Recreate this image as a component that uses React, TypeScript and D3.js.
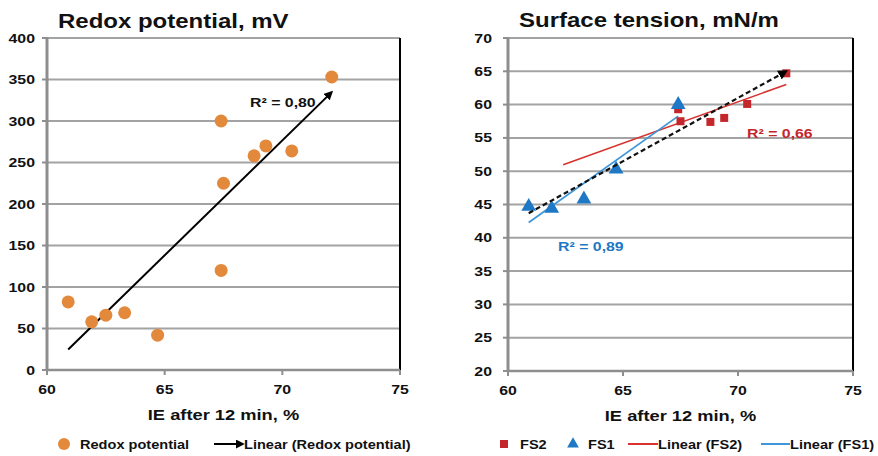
import React from "react";
import * as d3 from "d3";

const W = 878;
const H = 456;

// Redox potential (mV) against IE after 12 min (%)
const redoxIE = [60.9, 61.9, 62.5, 63.3, 64.7, 67.4, 67.4, 67.5, 68.8, 69.3, 70.4, 72.1];
const redoxMV = [82, 58, 66, 69, 42, 120, 300, 225, 258, 270, 264, 353];

// Surface tension (mN/m) against IE after 12 min (%)
const fs2IE = [67.4, 67.5, 68.8, 69.4, 70.4, 72.1];
const fs2ST = [59.3, 57.5, 57.4, 58.0, 60.1, 64.7];
const fs1IE = [60.9, 61.9, 63.3, 64.7, 67.4];
const fs1ST = [44.7, 44.4, 45.8, 50.3, 60.0];
const fs2TrendStart = 62.4; // the FS2 trendline starts before its first point

const xTicks = [60, 65, 70, 75];
const redoxTicks = [0, 50, 100, 150, 200, 250, 300, 350, 400];
const stTicks = [20, 25, 30, 35, 40, 45, 50, 55, 60, 65, 70];
const r2Labels = ["R² = 0,80", "R² = 0,66", "R² = 0,89"];

const FONT = "'Liberation Sans', Arial, sans-serif";
const ORANGE = "#E3893C";
const RED = "#C3262B";
const REDLINE = "#D8312E";
const BLUE = "#1F78C6";
const BLUELINE = "#3F97DA";
const GRID = "#A3A3A3";
const AXIS = "#8E8E8E";

// least squares line
function fit(xs: number[], ys: number[]) {
  const mx = d3.mean(xs) as number;
  const my = d3.mean(ys) as number;
  let sxy = 0;
  let sxx = 0;
  xs.forEach((x, i) => {
    sxy += (x - mx) * (ys[i] - my);
    sxx += (x - mx) * (x - mx);
  });
  const b = sxy / sxx;
  return (x: number) => my + b * (x - mx);
}

// text in the picture is stretched sideways, sx says how much
function T({ x, y, size = 13, sx = 1.22, anchor = "start", fill = "#111", dy = "0", children }: any) {
  return (
    <text
      transform={`translate(${x},${y}) scale(${sx},1)`}
      dy={dy}
      textAnchor={anchor}
      fontSize={size}
      fontFamily={FONT}
      fontWeight="bold"
      fill={fill}
    >
      {children}
    </text>
  );
}

function Frame({ x, y, ticks, title, labelGap }: any) {
  const [x0, x1] = x.range();
  const [y0, y1] = y.range();
  return (
    <g>
      {ticks.map((t: number) => (
        <line key={"g" + t} x1={x0} x2={x1} y1={y(t)} y2={y(t)} stroke={GRID} strokeWidth={2} />
      ))}
      {ticks.map((t: number) => (
        <g key={"t" + t}>
          <line x1={x0 - 5} x2={x0} y1={y(t)} y2={y(t)} stroke={AXIS} strokeWidth={2} />
          <T x={x0 - labelGap} y={y(t)} dy="0.35em" anchor="end">
            {t}
          </T>
        </g>
      ))}
      {xTicks.map((t) => (
        <g key={"x" + t}>
          <line x1={x(t)} x2={x(t)} y1={y0} y2={y0 + 5} stroke={AXIS} strokeWidth={2} />
          <T x={x(t)} y={y0 + 24} anchor="middle">
            {t}
          </T>
        </g>
      ))}
      <line x1={x1} x2={x1} y1={y1} y2={y0} stroke="#000" strokeWidth={2} />
      <line x1={x0} x2={x1} y1={y0} y2={y0} stroke={AXIS} strokeWidth={2.5} />
      <line x1={x0} x2={x0} y1={y1 - 1} y2={y0 + 1} stroke={AXIS} strokeWidth={3} />
      <T x={(x0 + x1) / 2} y={y0 + 50} size={15} anchor="middle">
        IE after 12 min, %
      </T>
      <T x={title.x} y={title.y} size={20} sx={1.2}>
        {title.text}
      </T>
    </g>
  );
}

export default function App() {
  const xL = d3.scaleLinear().domain([60, 75]).range([47, 400]);
  const yL = d3.scaleLinear().domain([0, 400]).range([370, 38]);
  const xR = d3.scaleLinear().domain([60, 75]).range([508, 853]);
  const yR = d3.scaleLinear().domain([20, 70]).range([371, 38]);

  const redoxFit = fit(redoxIE, redoxMV);
  const fs2Fit = fit(fs2IE, fs2ST);
  const fs1Fit = fit(fs1IE, fs1ST);
  const allFit = fit([...fs1IE, ...fs2IE], [...fs1ST, ...fs2ST]);

  const rx0 = d3.min(redoxIE) as number;
  const rx1 = d3.max(redoxIE) as number;
  const ax0 = d3.min([...fs1IE, ...fs2IE]) as number;
  const ax1 = d3.max([...fs1IE, ...fs2IE]) as number;
  const tri = d3.symbol(d3.symbolTriangle, 95)() as string;
  const legY = 444;
  const LSX = 1.12;

  return (
    <div style={{ position: "absolute", left: 0, top: 0 }}>
      <svg width={W} height={H} style={{ display: "block", background: "#fff" }}>
        <defs>
          <marker id="arr" viewBox="0 0 10 10" refX="8" refY="5" markerWidth="4.5" markerHeight="4.5" orient="auto">
            <path d="M0,0 L10,5 L0,10 Z" fill="#000" />
          </marker>
        </defs>

        {/* left panel */}
        <Frame x={xL} y={yL} ticks={redoxTicks} labelGap={12} title={{ text: "Redox potential, mV", x: 58, y: 28 }} />
        <line
          x1={xL(rx0)}
          y1={yL(redoxFit(rx0))}
          x2={xL(rx1)}
          y2={yL(redoxFit(rx1))}
          stroke="#000"
          strokeWidth={2}
          markerEnd="url(#arr)"
        />
        {redoxIE.map((v, i) => (
          <circle key={i} cx={xL(v)} cy={yL(redoxMV[i])} r={6.5} fill={ORANGE} />
        ))}
        <T x={250} y={107}>{r2Labels[0]}</T>

        {/* right panel */}
        <Frame x={xR} y={yR} ticks={stTicks} labelGap={16} title={{ text: "Surface tension, mN/m", x: 519, y: 27 }} />
        <line
          x1={xR(fs2TrendStart)}
          y1={yR(fs2Fit(fs2TrendStart))}
          x2={xR(d3.max(fs2IE) as number)}
          y2={yR(fs2Fit(d3.max(fs2IE) as number))}
          stroke={REDLINE}
          strokeWidth={1.6}
        />
        <line
          x1={xR(d3.min(fs1IE) as number)}
          y1={yR(fs1Fit(d3.min(fs1IE) as number))}
          x2={xR(d3.max(fs1IE) as number)}
          y2={yR(fs1Fit(d3.max(fs1IE) as number))}
          stroke={BLUELINE}
          strokeWidth={1.8}
        />
        {fs2IE.map((v, i) => (
          <rect key={"s" + i} x={xR(v) - 4} y={yR(fs2ST[i]) - 4} width={8} height={8} fill={RED} />
        ))}
        {fs1IE.map((v, i) => (
          <path key={"t" + i} d={tri} transform={`translate(${xR(v)},${yR(fs1ST[i])})`} fill={BLUE} />
        ))}
        <line
          x1={xR(ax0)}
          y1={yR(allFit(ax0))}
          x2={xR(ax1)}
          y2={yR(allFit(ax1))}
          stroke="#111"
          strokeWidth={2.2}
          strokeDasharray="5,3"
          markerEnd="url(#arr)"
        />
        <T x={747} y={138} fill={RED}>{r2Labels[1]}</T>
        <T x={558} y={251} fill={BLUE}>{r2Labels[2]}</T>

        {/* legends */}
        <circle cx={64} cy={legY} r={6} fill={ORANGE} />
        <T x={80} y={legY} dy="0.35em" sx={LSX}>Redox potential</T>
        <line x1={214} x2={243} y1={legY} y2={legY} stroke="#000" strokeWidth={2} markerEnd="url(#arr)" />
        <T x={244} y={legY} dy="0.35em" sx={LSX}>Linear (Redox potential)</T>

        <rect x={500} y={legY - 4} width={8} height={8} fill={RED} />
        <T x={520} y={legY} dy="0.35em" sx={LSX}>FS2</T>
        <path d={d3.symbol(d3.symbolTriangle, 60)() as string} transform={`translate(573,${legY})`} fill={BLUE} />
        <T x={588} y={legY} dy="0.35em" sx={LSX}>FS1</T>
        <line x1={628} x2={658} y1={legY} y2={legY} stroke={REDLINE} strokeWidth={2} />
        <T x={658} y={legY} dy="0.35em" sx={LSX}>Linear (FS2)</T>
        <line x1={761} x2={790} y1={legY} y2={legY} stroke={BLUELINE} strokeWidth={2} />
        <T x={790} y={legY} dy="0.35em" sx={LSX}>Linear (FS1)</T>
      </svg>
    </div>
  );
}
